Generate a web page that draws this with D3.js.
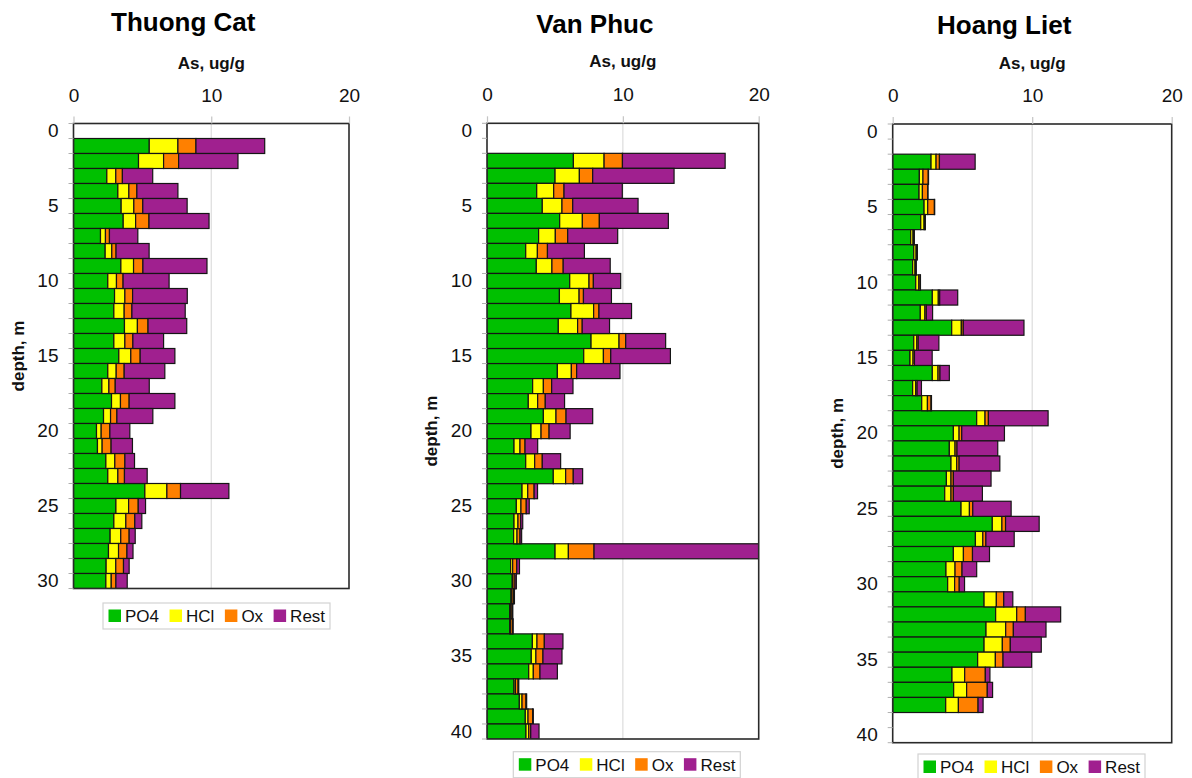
<!DOCTYPE html>
<html>
<head>
<meta charset="utf-8">
<script src="https://cdn.jsdelivr.net/npm/d3@7"></script>
<style>
  html, body { margin: 0; padding: 0; background: #fff; }
  svg { display: block; font-family: "Liberation Sans", Arial, Helvetica, sans-serif; }
</style>
</head>
<body>
<svg id="chart" width="1192" height="778"></svg>
<script>
// Arsenic fractions (As, ug/g) by depth in three sediment cores
const siteNames = ["Thuong Cat", "Van Phuc", "Hoang Liet"];
const seriesNames = ["PO4", "HCl", "Ox", "Rest"];
const seriesColors = ["#00c000", "#ffff00", "#ff8000", "#a0208f"];
const xTickValues = [0, 10, 20];
const xAxisTitle = "As, ug/g";
const yAxisTitle = "depth, m";

// Thuong Cat, depths 1–30 m
const thuongCatDepth = [1,2,3,4,5,6,7,8,9,10,11,12,13,14,15,16,17,18,19,20,21,22,23,24,25,26,27,28,29,30];
const thuongCatPO4  = [5.50,4.72,2.42,3.22,3.46,3.61,1.96,2.30,3.44,2.49,2.98,2.93,3.70,2.93,3.29,2.49,2.06,2.76,2.18,1.67,1.74,2.35,2.49,5.18,3.08,2.93,2.66,2.54,2.37,2.35];
const thuongCatHCl  = [2.08,1.82,0.65,0.80,0.92,0.90,0.36,0.48,0.92,0.63,0.75,0.75,0.94,0.80,0.87,0.61,0.51,0.65,0.51,0.34,0.34,0.65,0.73,1.60,0.92,0.87,0.77,0.73,0.70,0.39];
const thuongCatOx   = [1.31,1.09,0.48,0.58,0.65,0.97,0.29,0.31,0.68,0.48,0.56,0.56,0.77,0.58,0.68,0.58,0.46,0.63,0.46,0.63,0.65,0.73,0.48,0.99,0.70,0.65,0.61,0.61,0.56,0.34];
const thuongCatRest = [4.99,4.31,2.20,2.98,3.22,4.36,2.06,2.40,4.65,3.34,3.97,3.87,2.81,2.23,2.52,2.95,2.47,3.32,2.61,1.45,1.55,0.70,1.65,3.51,0.53,0.51,0.44,0.44,0.41,0.82];

// Van Phuc, depths 2–40 m
const vanPhucDepth = [2,3,4,5,6,7,8,9,10,11,12,13,14,15,16,17,18,19,20,21,22,23,24,25,26,27,28,29,30,31,32,33,34,35,36,37,38,39,40];
const vanPhucPO4  = [6.36,5.01,3.66,4.07,5.35,3.80,2.85,3.63,6.09, 5.33,6.18,5.25,7.66,7.12,5.18,3.36,3.04,4.15,3.24, 1.99,2.85,4.88,2.58,2.16,1.99,1.96,5.01,1.74,1.86, 1.77,1.67,1.67,3.34,3.26,3.07,1.99,2.38,2.82,2.87];
const vanPhucHCl  = [2.26,1.79,1.25,1.45,1.67,1.23,0.86,1.15,1.42, 1.45,1.67,1.42,2.06,1.45,1.03,0.79,0.69,0.93,0.74, 0.44,0.66,0.91,0.42,0.34,0.29,0.25,0.98,0.15,0.05, 0.05,0.05,0.05,0.34,0.34,0.34,0.10,0.20,0.20,0.20];
const vanPhucOx   = [1.35,0.98,0.76,0.79,1.25,0.91,0.74,0.83,0.32, 0.32,0.39,0.34,0.49,0.54,0.39,0.61,0.56,0.74,0.59, 0.37,0.56,0.56,0.47,0.39,0.20,0.22,1.89,0.30,0.15, 0.12,0.12,0.15,0.54,0.52,0.49,0.20,0.29,0.34,0.15];
const vanPhucRest = [7.56,5.99,4.29,4.81,5.08,3.68,2.72,3.46,2.01, 2.06,2.40,2.01,2.94,4.39,3.19,1.57,1.42,1.96,1.55, 0.93,1.35,0.69,0.25,0.22,0.15,0.12,12.12,0.20,0.10, 0.08,0.06,0.06,1.37,1.40,1.28,0.05,0.05,0.05,0.61];

// Hoang Liet, depths 2–38 m
const hoangLietDepth = [2,3,4,5,6,7,8,9,10,11,12,13,14,15,16,17,18,19,20,21,22,23,24,25,26,27,28,29,30,31,32,33,34,35,36,37,38];
const hoangLietPO4  = [2.75,1.91,1.89,2.25,2.01,1.29,1.51,1.43,1.65, 2.84,1.98,4.23,1.51,1.24,2.84,1.43,2.08,6.02,4.35, 4.06,4.18,3.85,3.73,4.90,7.14,5.93,4.35,3.82,3.94, 6.55,7.38,6.69,6.55,6.09,4.25,4.37,3.80];
const hoangLietHCl  = [0.36,0.26,0.24,0.26,0.24,0.17,0.17,0.17,0.22, 0.43,0.33,0.69,0.22,0.22,0.41,0.22,0.41,0.60,0.41, 0.41,0.41,0.33,0.45,0.60,0.69,0.53,0.72,0.65,0.50, 0.88,1.51,1.41,1.31,1.27,0.91,0.93,0.91];
const hoangLietOx   = [0.24,0.38,0.38,0.48,0.07,0.07,0.07,0.07,0.10, 0.10,0.10,0.14,0.10,0.10,0.14,0.10,0.26,0.24,0.19, 0.14,0.17,0.17,0.17,0.24,0.26,0.22,0.65,0.50,0.33, 0.53,0.62,0.55,0.57,0.55,1.48,1.48,1.41];
const hoangLietRest = [2.56,0.02,0.02,0.02,0.02,0.02,0.02,0.02,0.02, 1.29,0.45,4.35,1.48,1.27,0.67,0.31,0.03,4.28,3.06, 2.92,2.92,2.70,2.08,2.75,2.41,2.03,1.22,1.05,0.38, 0.65,2.53,2.34,2.22,2.05,0.33,0.38,0.36];

// Depth axis labels
const depthLabels30 = [0, 5, 10, 15, 20, 25, 30];
const depthLabels40 = [0, 5, 10, 15, 20, 25, 30, 35, 40];

// Panel layout (pixels)
const layout = [
  { left: 73.5, right: 349,   top: 123.5, bottom: 588.5, maxDepth: 30, titleY: 31, axisTitleY: 68.5, legendX: 103,   legendY: 603 },
  { left: 487,  right: 758.7, top: 123.3, bottom: 739,   maxDepth: 40, titleY: 33, axisTitleY: 67,   legendX: 513.3, legendY: 751.7 },
  { left: 892.7,right: 1171.7,top: 124,   bottom: 742.7, maxDepth: 40, titleY: 34, axisTitleY: 68.5, legendX: 918,   legendY: 754 }
];

const panels = [
  { name: siteNames[0], depth: thuongCatDepth, series: [thuongCatPO4, thuongCatHCl, thuongCatOx, thuongCatRest], labels: depthLabels30 },
  { name: siteNames[1], depth: vanPhucDepth,   series: [vanPhucPO4, vanPhucHCl, vanPhucOx, vanPhucRest],           labels: depthLabels40 },
  { name: siteNames[2], depth: hoangLietDepth, series: [hoangLietPO4, hoangLietHCl, hoangLietOx, hoangLietRest],   labels: depthLabels40 }
];

const svg = d3.select("#chart");
svg.append("rect").attr("width", 1192).attr("height", 778).attr("fill", "#fff");

const stack = d3.stack().keys(seriesNames);

panels.forEach((p, pi) => {
  const L = layout[pi];
  const g = svg.append("g");

  const x = d3.scaleLinear().domain([0, 20]).range([L.left, L.right]);
  const y = d3.scaleBand()
    .domain(d3.range(0, L.maxDepth + 1))
    .range([L.top, L.bottom])
    .padding(0);

  // vertical gridline at the middle tick
  g.append("line")
    .attr("x1", x(10)).attr("x2", x(10))
    .attr("y1", L.top).attr("y2", L.bottom)
    .attr("stroke", "#dcdcdc").attr("stroke-width", 1.2);

  // stacked fraction bars
  const rows = p.depth.map((d, i) => {
    const r = { depth: d };
    seriesNames.forEach((s, si) => { r[s] = p.series[si][i]; });
    return r;
  });
  const layers = stack(rows);

  const clipId = "clip" + pi;
  g.append("clipPath").attr("id", clipId)
    .append("rect")
    .attr("x", L.left).attr("y", L.top)
    .attr("width", L.right - L.left).attr("height", L.bottom - L.top);

  const barG = g.append("g").attr("clip-path", `url(#${clipId})`);
  layers.forEach((layer, li) => {
    barG.append("g")
      .selectAll("rect")
      .data(layer)
      .join("rect")
      .attr("x", d => x(d[0]))
      .attr("y", d => y(d.data.depth))
      .attr("width", d => Math.max(0, x(d[1]) - x(d[0])))
      .attr("height", y.bandwidth())
      .attr("fill", seriesColors[li])
      .attr("stroke", "#151515")
      .attr("stroke-width", 1.2);
  });

  // plot frame
  g.append("rect")
    .attr("x", L.left).attr("y", L.top)
    .attr("width", L.right - L.left).attr("height", L.bottom - L.top)
    .attr("fill", "none").attr("stroke", "#2a2a2a").attr("stroke-width", 1.6);

  // top value axis
  const xAxisG = g.append("g")
    .attr("transform", `translate(0,${L.top})`)
    .call(d3.axisTop(x).tickValues(xTickValues).tickSize(7).tickPadding(15));
  xAxisG.select(".domain").remove();
  xAxisG.selectAll(".tick line").attr("stroke", "#c4c4c4").attr("stroke-width", 1.2);
  xAxisG.selectAll(".tick text")
    .attr("font-family", null)
    .attr("font-size", 19).attr("fill", "#111");

  // depth axis: labels at category centres, ticks at category boundaries
  const yAxisG = g.append("g")
    .attr("transform", `translate(${L.left},0)`)
    .call(d3.axisLeft(y).tickValues(p.labels).tickSize(0).tickPadding(15));
  yAxisG.select(".domain").remove();
  yAxisG.selectAll(".tick text")
    .attr("font-family", null)
    .attr("font-size", 19).attr("fill", "#111");

  const bounds = y.domain().map(d => y(d)).concat([y.range()[1]]);
  g.append("g").selectAll("line")
    .data(bounds)
    .join("line")
    .attr("x1", L.left - 5).attr("x2", L.left)
    .attr("y1", d => d).attr("y2", d => d)
    .attr("stroke", "#b0b0b0").attr("stroke-width", 1);

  // titles
  const cx = (L.left + L.right) / 2;
  g.append("text")
    .attr("x", cx - 28).attr("y", L.titleY)
    .attr("text-anchor", "middle")
    .attr("font-size", 26).attr("font-weight", "bold").attr("fill", "#000")
    .text(p.name);

  g.append("text")
    .attr("x", cx).attr("y", L.axisTitleY)
    .attr("text-anchor", "middle")
    .attr("font-size", 17).attr("font-weight", "bold").attr("fill", "#111")
    .text(xAxisTitle);

  const cy = (L.top + L.bottom) / 2;
  g.append("text")
    .attr("transform", `translate(${L.left - 50},${cy}) rotate(-90)`)
    .attr("text-anchor", "middle")
    .attr("font-size", 17).attr("font-weight", "bold").attr("fill", "#111")
    .text(yAxisTitle);

  // legend
  const lg = g.append("g").attr("transform", `translate(${L.legendX},${L.legendY})`);
  lg.append("rect")
    .attr("x", 0).attr("y", 0).attr("width", 227).attr("height", 26)
    .attr("fill", "#fff").attr("stroke", "#d2d2d2").attr("stroke-width", 1.2);
  let cursor = 5.5;
  seriesNames.forEach((s, si) => {
    lg.append("rect")
      .attr("x", cursor).attr("y", 6.5)
      .attr("width", 12.5).attr("height", 12.5)
      .attr("fill", seriesColors[si]);
    const t = lg.append("text")
      .attr("x", cursor + 16.5).attr("y", 19)
      .attr("font-size", 17).attr("fill", "#111")
      .text(s);
    cursor += 16.5 + t.node().getComputedTextLength() + 10.5;
  });
});
</script>
</body>
</html>
